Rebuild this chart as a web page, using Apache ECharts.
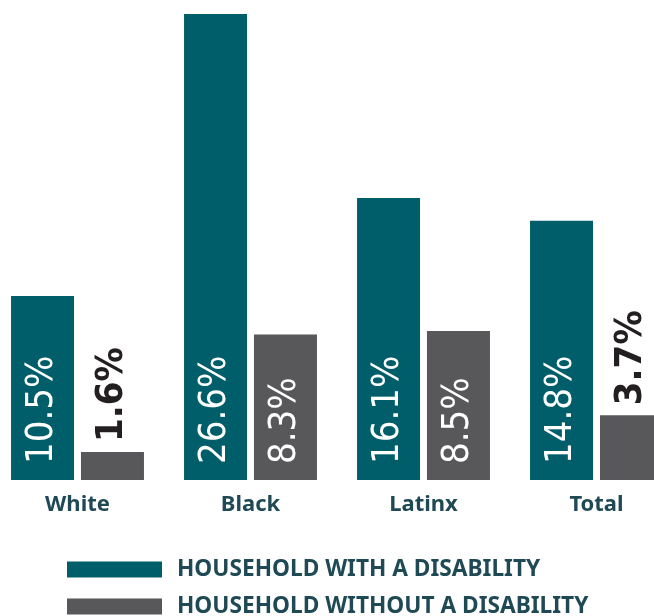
<!DOCTYPE html>
<html>
<head>
<meta charset="utf-8">
<script src="https://cdn.jsdelivr.net/npm/echarts@6/dist/echarts.min.js"></script>
<style>
  html, body { margin: 0; padding: 0; background: #fff; overflow: hidden; }
  /* the plot runs past the right edge in the original, so the canvas is wider than the window */
  #chart { position: absolute; left: -9px; top: 0; width: 692px; height: 616px; }
</style>
</head>
<body>
<div id="chart"></div>
<script>
// data
const categories = ["White", "Black", "Latinx", "Total"];
const withDisability = [10.5, 26.6, 16.1, 14.8];
const withoutDisability = [1.6, 8.3, 8.5, 3.7];
const seriesNames = ["HOUSEHOLD WITH A DISABILITY", "HOUSEHOLD WITHOUT A DISABILITY"];

const TEAL = "#005e6b";
const GRAY = "#58585a";
const TEXT = "#1f4a55";
const OFFSET = 9; // canvas starts 9px left of the window

const insideLabel = {
  show: true,
  position: "insideBottom",
  rotate: 90,
  align: "left",
  verticalAlign: "middle",
  distance: 16,
  color: "#fff",
  fontFamily: "'DejaVu Sans Condensed', 'DejaVu Sans'",
  fontSize: 38,
  formatter: (p) => p.value.toFixed(1) + "%"
};

// short bars get their label above the bar, in dark bold type
const outsideLabel = Object.assign({}, insideLabel, {
  position: "top",
  distance: 10,
  color: "#231f20",
  fontWeight: "bold"
});

function toItems(values) {
  return values.map((v) => ({
    value: v,
    label: v < 5 ? outsideLabel : insideLabel
  }));
}

const legendText = {
  color: TEXT,
  fontFamily: "Noto Sans",
  fontWeight: "bold",
  fontSize: 22.7,
  padding: [0, 0, 0, 10]
};

function legendRow(name, top) {
  return {
    left: 67 + OFFSET, top: top, padding: 0,
    itemWidth: 95, itemHeight: 16, icon: "rect",
    selectedMode: false, data: [name], textStyle: legendText
  };
}

const chart = echarts.init(document.getElementById("chart"), null, { renderer: "canvas" });

chart.setOption({
  animation: false,
  backgroundColor: "#fff",
  grid: { left: 0, right: 0, top: 7, bottom: 136, containLabel: false },
  legend: [
    legendRow(seriesNames[0], 558),
    legendRow(seriesNames[1], 595)
  ],
  xAxis: {
    type: "category",
    data: categories,
    axisLine: { show: false },
    axisTick: { show: false },
    axisLabel: {
      margin: 14,
      color: TEXT,
      fontFamily: "Noto Sans",
      fontWeight: "bold",
      fontSize: 22
    }
  },
  yAxis: {
    type: "value",
    min: 0,
    max: 27,
    show: false,
    splitLine: { show: false }
  },
  series: [
    {
      name: seriesNames[0],
      type: "bar",
      barWidth: 63,
      barGap: "11%",
      itemStyle: { color: TEAL },
      data: toItems(withDisability)
    },
    {
      name: seriesNames[1],
      type: "bar",
      barWidth: 63,
      itemStyle: { color: GRAY },
      data: toItems(withoutDisability)
    }
  ]
});
</script>
</body>
</html>
